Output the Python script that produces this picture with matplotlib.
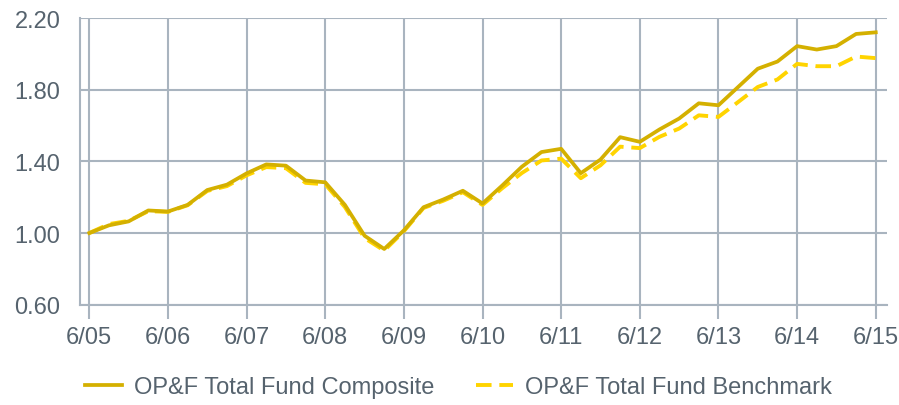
import matplotlib
matplotlib.use('Agg')
import matplotlib.pyplot as plt
import numpy as np

# quarterly growth of $1, June 2005 - June 2015
composite = [1.00, 1.043, 1.065, 1.126, 1.12, 1.157, 1.24, 1.27, 1.333, 1.383,
             1.376, 1.293, 1.283, 1.157, 0.985, 0.911, 1.015, 1.144, 1.187, 1.236,
             1.165, 1.265, 1.37, 1.452, 1.47, 1.334, 1.41, 1.535, 1.509, 1.578,
             1.639, 1.724, 1.713, 1.815, 1.917, 1.957, 2.043, 2.024, 2.043, 2.111,
             2.12]
benchmark = [1.00, 1.05, 1.068, 1.122, 1.118, 1.155, 1.235, 1.262, 1.322, 1.368,
             1.362, 1.28, 1.272, 1.145, 0.972, 0.902, 1.01, 1.14, 1.18, 1.228,
             1.157, 1.25, 1.335, 1.405, 1.415, 1.306, 1.378, 1.482, 1.474, 1.537,
             1.583, 1.657, 1.648, 1.731, 1.815, 1.857, 1.944, 1.931, 1.931, 1.985,
             1.976]
year_labels = ['6/05', '6/06', '6/07', '6/08', '6/09', '6/10',
               '6/11', '6/12', '6/13', '6/14', '6/15']
y_ticks = [0.60, 1.00, 1.40, 1.80, 2.20]

plt.rcParams['font.family'] = ['Liberation Sans', 'DejaVu Sans']

grid_col = '#a9b4bf'
text_col = '#56636e'
gold = '#d4b000'
yellow = '#ffd400'

fig = plt.figure(figsize=(8.99, 4.06), dpi=100)
ax = fig.add_axes([0.089, 0.247, 0.8977, 0.7062])

q = np.arange(len(composite))
ax.plot(q, benchmark, color=yellow, lw=2.8, ls=(0, (4, 2)),
        label='OP&F Total Fund Benchmark', zorder=3)
ax.plot(q, composite, color=gold, lw=2.7,
        label='OP&F Total Fund Composite', zorder=4)

ax.set_xlim(-0.473, 40.575)
ax.set_ylim(0.6, 2.2)
ax.set_xticks(np.arange(0, 41, 4))
ax.set_xticklabels(year_labels)
ax.set_yticks(y_ticks)
ax.set_yticklabels([f'{v:.2f}' for v in y_ticks])
ax.grid(True, color=grid_col, lw=1.5)
ax.set_axisbelow(True)

for s in ['top', 'right']:
    ax.spines[s].set_visible(False)
for s in ['left', 'bottom']:
    ax.spines[s].set_color(grid_col)
    ax.spines[s].set_linewidth(1.5)

ax.tick_params(axis='x', colors=grid_col, length=10, width=1.5,
               labelcolor=text_col, labelsize=17, pad=5)
ax.tick_params(axis='y', length=0, labelcolor=text_col, labelsize=17, pad=14)

handles, labels = ax.get_legend_handles_labels()
fig.legend(handles[::-1], labels[::-1], loc='center', ncol=2,
           bbox_to_anchor=(0.51, 0.044), frameon=False, fontsize=17,
           labelcolor=text_col, handlelength=1.55, handletextpad=0.5,
           columnspacing=1.8)

fig.savefig('out.png', dpi=100)
